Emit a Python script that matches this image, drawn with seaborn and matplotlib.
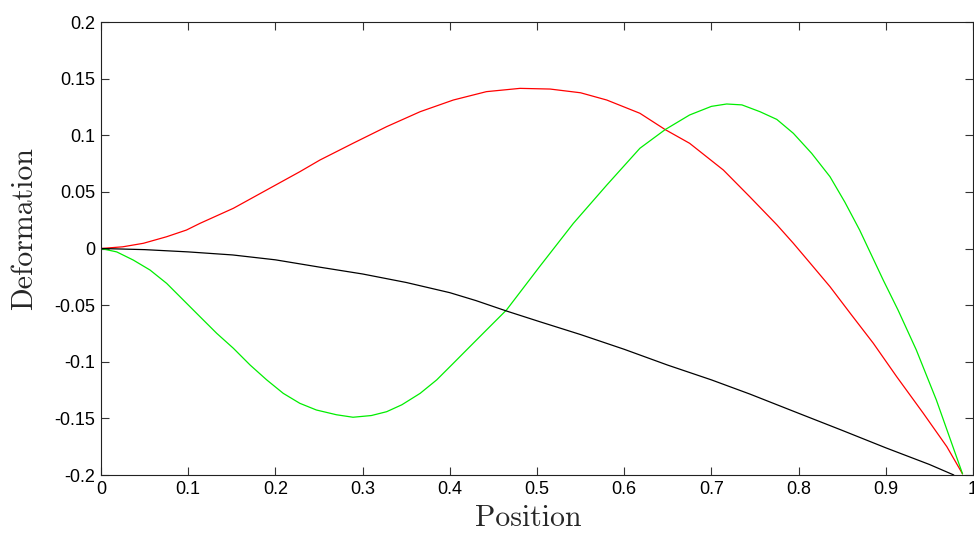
import numpy as np
import pandas as pd
import matplotlib
matplotlib.use("Agg")
import matplotlib.pyplot as plt
import seaborn as sns

# ---- data ----
black_x = [0.0, 0.05, 0.10, 0.151, 0.20, 0.251, 0.30, 0.35, 0.40, 0.43, 0.465, 0.503, 0.55, 0.60,
           0.65, 0.70, 0.744, 0.80, 0.85, 0.90, 0.95, 0.978]
black_y = [0.0, -0.001, -0.003, -0.0057, -0.010, -0.0165, -0.0225, -0.030, -0.039, -0.046, -0.0552,
           -0.0646, -0.076, -0.089, -0.103, -0.116, -0.1285, -0.1455, -0.1606, -0.176, -0.1907, -0.2]

red_x = [0.0, 0.025, 0.0486, 0.0753, 0.098, 0.1135, 0.1518, 0.19, 0.228, 0.251, 0.289, 0.3276, 0.366,
         0.404, 0.442, 0.4805, 0.515, 0.55, 0.58, 0.618, 0.647, 0.675, 0.7137, 0.744, 0.775, 0.794,
         0.815, 0.836, 0.86, 0.8857, 0.9125, 0.943, 0.97, 0.988]
red_y = [0.0, 0.0015, 0.0046, 0.0104, 0.0163, 0.0222, 0.0355, 0.0517, 0.0678, 0.0781, 0.0929, 0.1076,
         0.1208, 0.1311, 0.1385, 0.1414, 0.1408, 0.1375, 0.1311, 0.1194, 0.105, 0.0929, 0.0693, 0.0457,
         0.021, 0.0046, -0.0145, -0.0337, -0.058, -0.0837, -0.1132, -0.1455, -0.175, -0.199]

green_x = [0.0, 0.018, 0.037, 0.0562, 0.0753, 0.0944, 0.1135, 0.1327, 0.1518, 0.171, 0.19, 0.209,
           0.228, 0.247, 0.27, 0.289, 0.31, 0.3276, 0.345, 0.366, 0.385, 0.404, 0.42, 0.442, 0.465,
           0.503, 0.5417, 0.58, 0.618, 0.647, 0.675, 0.70, 0.7175, 0.735, 0.7557, 0.775, 0.794,
           0.815, 0.836, 0.853, 0.870, 0.897, 0.914, 0.935, 0.958, 0.988]
green_y = [0.0, -0.003, -0.0102, -0.019, -0.0308, -0.0455, -0.0602, -0.0749, -0.0881, -0.1029,
           -0.116, -0.1279, -0.1367, -0.1426, -0.1468, -0.149, -0.1475, -0.1441, -0.138, -0.1279,
           -0.116, -0.1014, -0.089, -0.072, -0.0543, -0.016, 0.0222, 0.056, 0.0885, 0.105, 0.1179,
           0.1255, 0.1276, 0.1268, 0.1208, 0.114, 0.1017, 0.084, 0.0634, 0.041, 0.0163, -0.0278,
           -0.0543, -0.0896, -0.1338, -0.199]

x_ticks = [0, 0.1, 0.2, 0.3, 0.4, 0.5, 0.6, 0.7, 0.8, 0.9, 1.0]
x_tick_labels = ["0", "0.1", "0.2", "0.3", "0.4", "0.5", "0.6", "0.7", "0.8", "0.9", "1"]
y_ticks = [-0.2, -0.15, -0.1, -0.05, 0, 0.05, 0.1, 0.15, 0.2]
y_tick_labels = ["-0.2", "-0.15", "-0.1", "-0.05", "0", "0.05", "0.1", "0.15", "0.2"]

x_label = "Position"
y_label = "Deformation"

# ---- build long table ----
frames = []
for name, xs, ys in [("red", red_x, red_y), ("green", green_x, green_y), ("black", black_x, black_y)]:
    frames.append(pd.DataFrame({"x": xs, "y": ys, "series": name}))
df = pd.concat(frames, ignore_index=True)

sns.set_theme(style="white")
plt.rcParams["font.family"] = ["Liberation Sans", "DejaVu Sans"]

fig = plt.figure(figsize=(9.74, 5.33), dpi=100)
ax = fig.add_axes([101 / 974, 1 - 475 / 533, 872 / 974, 453 / 533])

palette = {"red": "#ff0000", "green": "#00ee00", "black": "#000000"}
sns.lineplot(data=df, x="x", y="y", hue="series", palette=palette, sort=False,
             estimator=None, units="series", linewidth=0.9, legend=False, ax=ax)

ax.set_xlim(0, 1)
ax.set_ylim(-0.2, 0.2)
ax.set_xticks(x_ticks)
ax.set_xticklabels(x_tick_labels)
ax.set_yticks(y_ticks)
ax.set_yticklabels(y_tick_labels)
ax.tick_params(direction="in", length=6, width=0.8, color="#333333",
               top=True, right=True, bottom=True, left=True,
               labelsize=13, labelcolor="black", pad=4)
for s in ax.spines.values():
    s.set_visible(True)
    s.set_color("#222222")
    s.set_linewidth(0.8)

ax.set_xlabel(x_label, fontfamily="cmr10", fontsize=21.5, labelpad=7)
ax.set_ylabel(y_label, fontfamily="cmr10", fontsize=21.5)
ax.yaxis.set_label_coords(-0.072, 0.543)
ax.xaxis.set_label_coords(0.49, -0.065)
ax.xaxis.label.set_va("top")

fig.savefig("out.png", dpi=100)
